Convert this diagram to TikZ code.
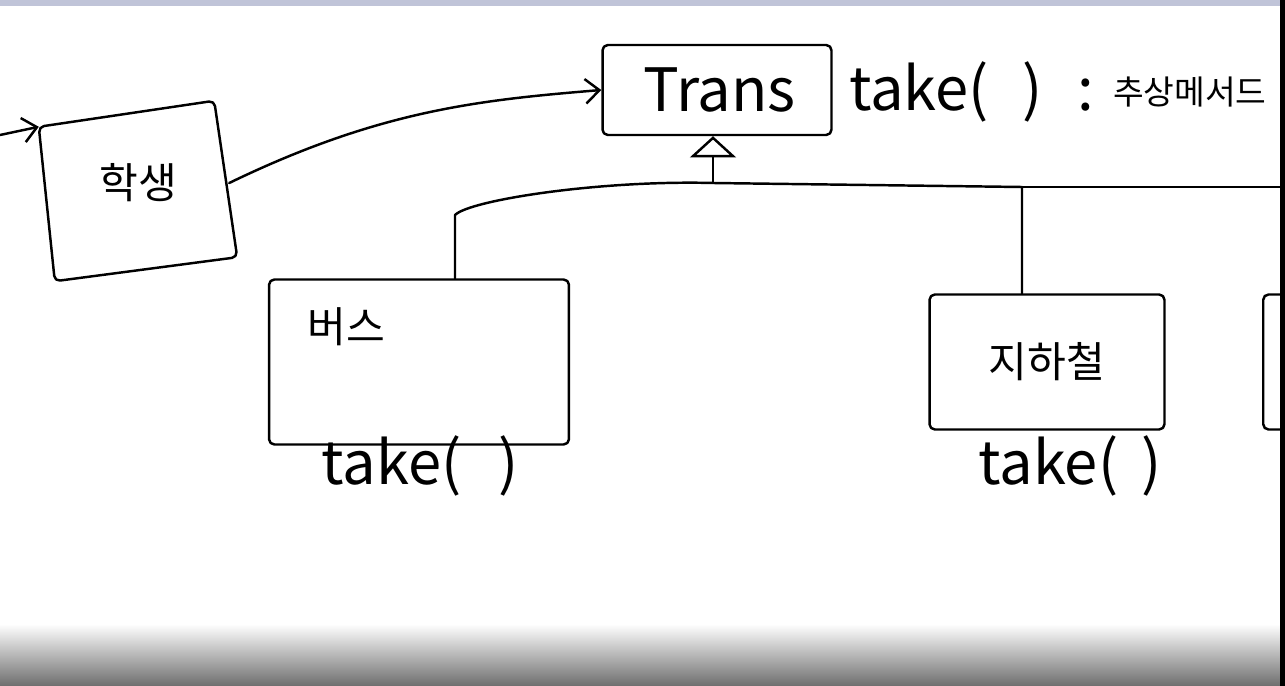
\documentclass[tikz,border=0pt]{standalone}
\usepackage{fontspec}
\setmainfont{Noto Sans CJK KR}
\usepackage{tikz}
\usetikzlibrary{calc,shapes,arrows.meta,positioning}
\tikzstyle{every path}=[line width=1.4pt,line cap=round,line join=round]
\tikzstyle{cls}=[draw,rectangle,rounded corners=3pt,inner sep=0pt]
\tikzstyle{hand}=[font=\fontsize{34}{34}\selectfont]
\tikzstyle{kor}=[font=\fontsize{24}{24}\selectfont]
\definecolor{barcol}{RGB}{192,196,216}
\definecolor{shadecol}{RGB}{110,110,110}

\begin{document}
\begin{tikzpicture}[x=0.02cm,y=-0.02cm]
        \useasboundingbox (0,0) rectangle (1285,686);
        \fill[white] (0,0) rectangle (1285,686);
        \fill[barcol] (0,0) rectangle (1285,6);
        % grey band at the bottom
        \foreach \i in {0,...,62} {
          \pgfmathsetmacro{\pc}{100-100*\i/62}
          \fill[white!\pc!shadecol] (0,624+\i) rectangle (1280,625.2+\i);
        }
        % classes
        \node[cls,minimum width=4.58cm,minimum height=1.8cm] (trans) at (717,90) {};
        \node[hand] at (trans) [xshift=0.05cm] {Trans};
        \node[hand,anchor=west] (abs) at (842,92) {take(\,\ \,)\hspace{0.7cm}:};
        \node[kor,font=\fontsize{19}{19}\selectfont,anchor=west] (absk) at (1106,92) {추상메서드};
        \node[kor,minimum width=3.6cm,minimum height=3.1cm] (stu) at (138,183) {학생};
        \draw[rounded corners=3pt] ([shift={(-8,22.5)}]stu.north west) coordinate (stutl)
          -- ([shift={(-15,-3.5)}]stu.north east) -- ([shift={(8,-4.5)}]stu.south east)
          -- ([shift={(8,19.5)}]stu.south west) -- cycle;
        \node[cls,minimum width=6.0cm,minimum height=3.3cm] (bus) at (419,362) {};
        \node[kor,below right=0.45cm and 0.65cm of bus.north west] {버스};
        \node[hand] (bustake) at (420,466) {take(\ \ \,)};
        \node[cls,kor,minimum width=4.7cm,minimum height=2.7cm] (sub) at (1047,362) {지하철};
        \node[hand] (subtake) at (1070,466) {take(\ \,)};
        \node[cls,minimum width=4.7cm,minimum height=2.7cm,anchor=west] (more) at (1262,362) {};
        % connectors
        \coordinate (in) at (0,135);
        \draw[-{Straight Barb[length=8pt,width=14pt]}] (in) -- (stutl);
        \draw[-{Straight Barb[length=8pt,width=14pt]}] (stu.east) .. controls (380,110) and (480,100) .. (trans.west);
        \coordinate (jt) at (713,183);
        \coordinate (jb) at (455,215);
        \coordinate (js) at (1022,187);
        \coordinate (edge) at (1285,187);
        \draw[-{Triangle[open,length=12pt,width=26pt]}] (jt) -- (trans.south -| jt);
        \draw (jb |- bus.north) -- (jb) .. controls (470,200) and (600,180) .. (jt) -- (js) -- (js |- sub.north);
        \draw (js) -- (edge);
        \fill[black] (1280,0) rectangle (1285,686);
\end{tikzpicture}
\end{document}
